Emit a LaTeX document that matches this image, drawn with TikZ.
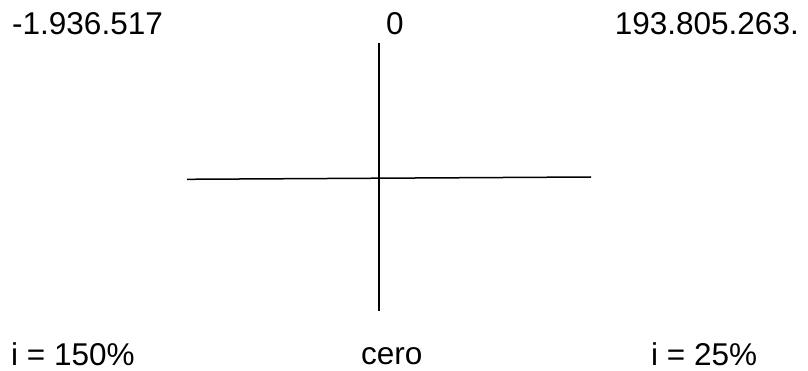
\documentclass[tikz,border=0pt]{standalone}
\usepackage{fontspec}
\setmainfont{Liberation Sans}
\usetikzlibrary{positioning}
\tikzset{
  valor/.style={font=\fontsize{31.5}{36}\selectfont,text=black,inner sep=0pt},
  eje/.style={draw=black,line width=1.5pt}
}
\begin{document}
\begin{tikzpicture}[x=1pt,y=-1pt]
  \useasboundingbox (0,0) rectangle (808,371);
  % valores del VAN
  \node[valor,anchor=base west] (vanmin) at (12,35) {-1.936.517};
  \node[valor,anchor=base] (vancero) at (395,35) {0};
  \node[valor,anchor=base east] (vanmax) at (799,35) {193.805.263.};
  % ejes
  \coordinate (arriba) at (379,43);
  \coordinate (abajo) at (379,311);
  \coordinate (izq) at (187,179.3);
  \coordinate (der) at (591,177);
  \draw[eje] (arriba) -- (abajo);
  \draw[eje] (izq) -- (der);
  % tasas
  \node[valor,anchor=base west] (tasaalta) at (11,365) {i = 150\%};
  \node[valor,anchor=base west] (tasacero) at (361,364) {cero};
  \node[valor,anchor=base west] (tasabaja) at (651,365) {i = 25\%};
\end{tikzpicture}
\end{document}
